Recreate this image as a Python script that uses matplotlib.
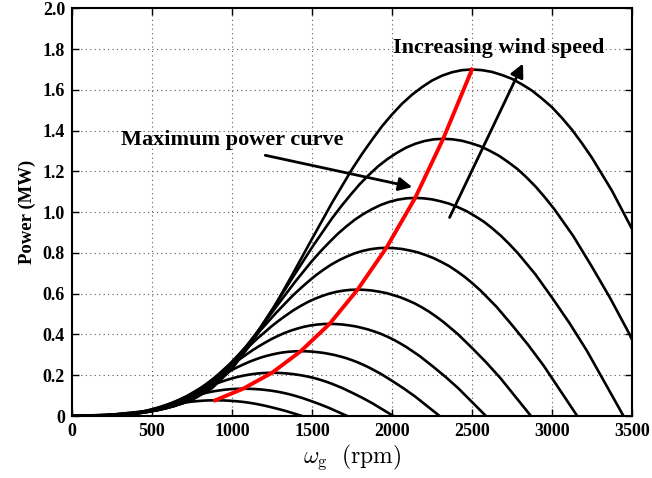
import numpy as np
import matplotlib.pyplot as plt

# wind speeds of the curves (m/s), lowest to highest
wind_speed = [5, 6, 7, 8, 9, 10, 11, 12, 13, 14]
# peak of each curve: generator speed (rpm) and power (MW) -> also the red curve
peak_rpm = [895, 1070, 1250, 1430, 1610, 1785, 1965, 2145, 2320, 2500]
peak_mw = [0.077, 0.134, 0.212, 0.318, 0.452, 0.62, 0.825, 1.07, 1.36, 1.70]

# shape of one curve: speed / peak speed, power / peak power
shape_x = [0.0, 0.1, 0.2, 0.25, 0.3, 0.35, 0.4, 0.45, 0.5, 0.55, 0.6, 0.65,
           0.7, 0.725, 0.75, 0.775, 0.8, 0.825, 0.85, 0.875, 0.9, 0.925, 0.95,
           0.975, 1.0, 1.025, 1.05, 1.075, 1.1, 1.125, 1.15, 1.175, 1.2, 1.225,
           1.25, 1.275, 1.3, 1.35, 1.4, 1.45, 1.5, 1.55, 1.607]
shape_p = [0.0, 0.004, 0.016, 0.027, 0.046, 0.080, 0.136, 0.212, 0.304, 0.406,
           0.511, 0.615, 0.712, 0.756, 0.797, 0.836, 0.870, 0.901, 0.927, 0.949,
           0.968, 0.982, 0.992, 0.998, 1.0, 0.998, 0.993, 0.984, 0.973, 0.957,
           0.939, 0.916, 0.891, 0.860, 0.826, 0.787, 0.745, 0.650, 0.540, 0.425,
           0.300, 0.160, 0.0]

x_ticks = [0, 500, 1000, 1500, 2000, 2500, 3000, 3500]
y_ticks = [0, 0.2, 0.4, 0.6, 0.8, 1.0, 1.2, 1.4, 1.6, 1.8, 2.0]
y_labels = ["0", "0.2", "0.4", "0.6", "0.8", "1.0", "1.2", "1.4", "1.6", "1.8", "2.0"]

plt.rcParams["font.family"] = ["Liberation Serif", "DejaVu Serif"]
plt.rcParams["font.weight"] = "bold"
plt.rcParams["mathtext.fontset"] = "cm"

fig = plt.figure(figsize=(6.52, 4.78), dpi=100)
ax = fig.add_axes([0.1104, 0.1297, 0.8589, 0.8529])

sx = np.array(shape_x)
sp = np.array(shape_p)
for w, p in zip(peak_rpm, peak_mw):
    ax.plot(sx * w, sp * p, color="k", lw=1.9)

# maximum power curve through the peaks
ax.plot(peak_rpm, peak_mw, color="r", lw=2.8)

ax.set_xlim(0, 3500)
ax.set_ylim(0, 2.0)
ax.set_xticks(x_ticks)
ax.set_xticklabels([str(t) for t in x_ticks])
ax.set_yticks(y_ticks)
ax.set_yticklabels(y_labels)
ax.tick_params(direction="in", top=True, right=True, length=5, width=1, labelsize=13, pad=5)
for s in ax.spines.values():
    s.set_linewidth(1.5)
ax.grid(True, color="0.35", linestyle=(0, (1, 3)), lw=0.8)

ax.set_xlabel(r"$\omega_{\rm g}\ \ \rm (rpm)$", fontsize=17, labelpad=2)
ax.set_ylabel("Power (MW)", fontsize=13.5, fontweight="bold", labelpad=5)

arrow = dict(arrowstyle="-|>", color="k", lw=2, mutation_scale=20,
             shrinkA=0, shrinkB=0)
ax.annotate("", xy=(2127, 1.123), xytext=(1208, 1.279), arrowprops=arrow)
ax.text(1003, 1.353, "Maximum power curve", fontsize=16, fontweight="bold",
        ha="center", va="center")
ax.annotate("", xy=(2819, 1.729), xytext=(2360, 0.974), arrowprops=arrow)
ax.text(2665, 1.804, "Increasing wind speed", fontsize=16, fontweight="bold",
        ha="center", va="center")

fig.savefig("out.png", dpi=100)
